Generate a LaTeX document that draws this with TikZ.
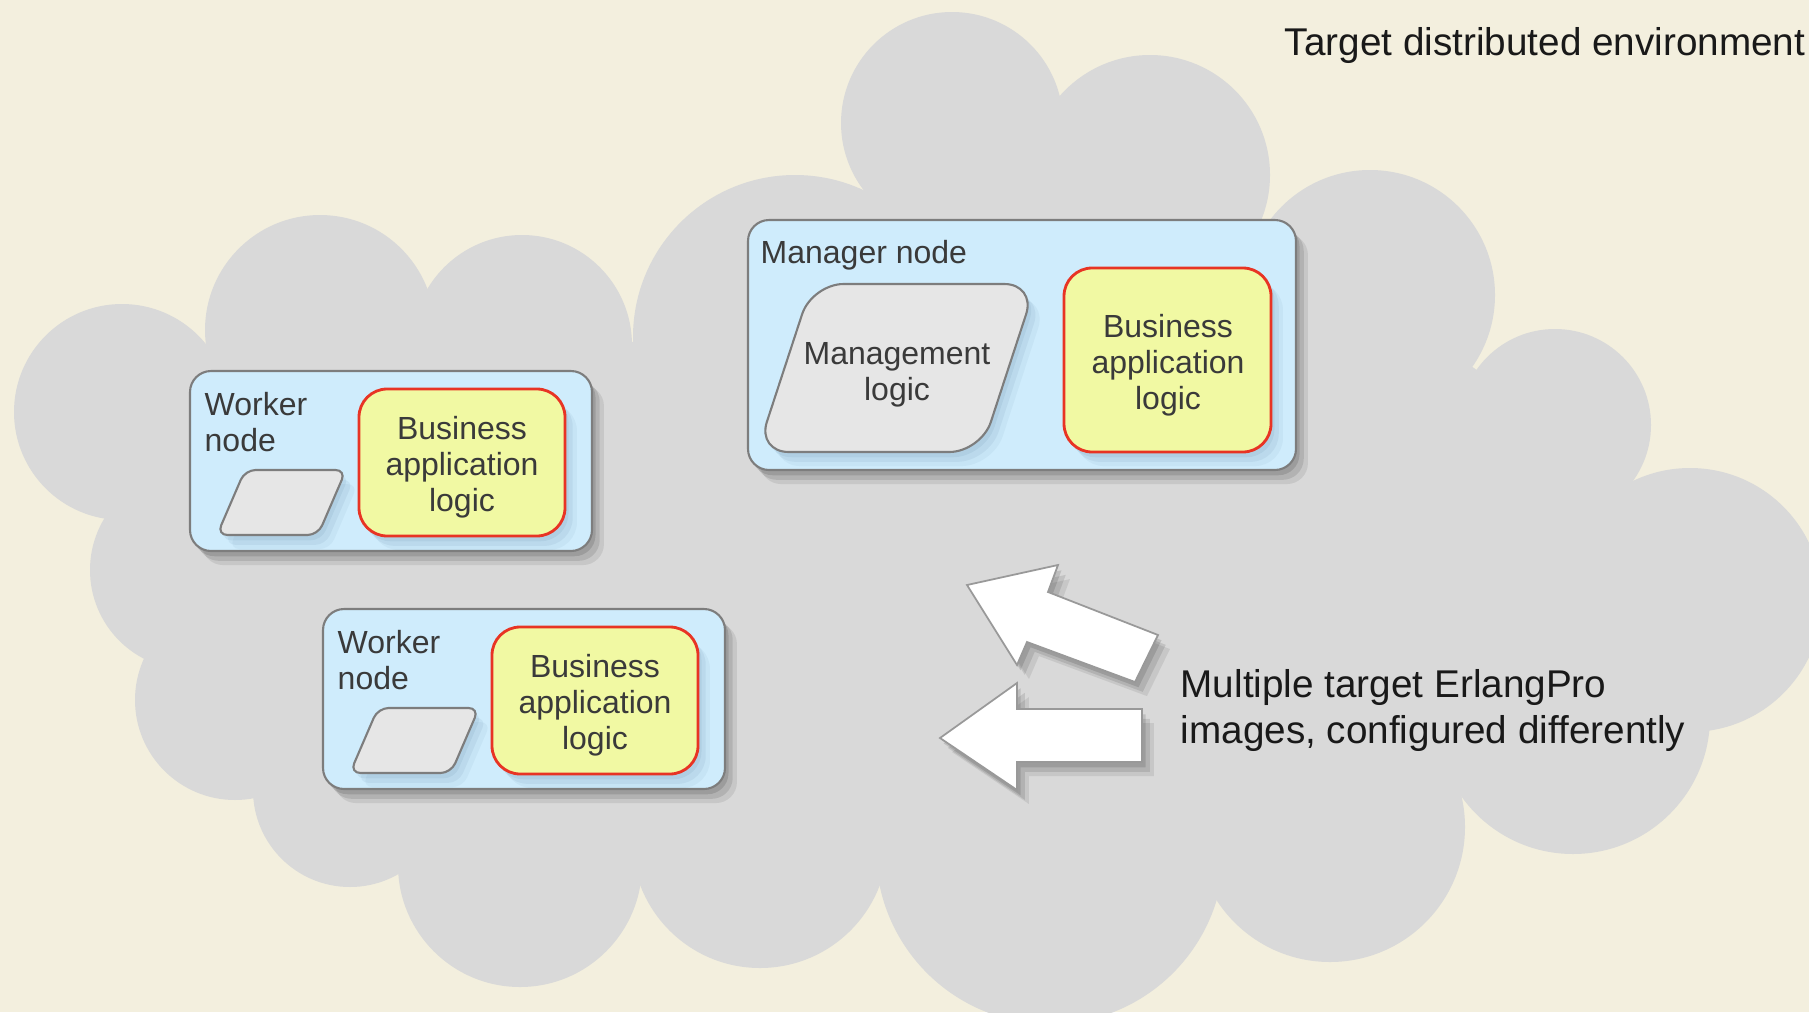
\documentclass[tikz,border=0pt]{standalone}
\usepackage{fontspec}
\setmainfont{Liberation Sans}
\usetikzlibrary{shadows}

\definecolor{paper}{RGB}{243,239,222}
\definecolor{cloudgray}{RGB}{217,217,217}
\definecolor{nodeblue}{RGB}{207,236,252}
\definecolor{bizyellow}{RGB}{241,249,163}
\definecolor{bizred}{RGB}{232,52,36}
\definecolor{logicgray}{RGB}{230,230,230}
\definecolor{edgegray}{RGB}{125,125,125}
\definecolor{labelgray}{RGB}{58,58,58}
\definecolor{shadeblue}{RGB}{95,135,165}

\tikzset{
	softshadow/.style={
		drop shadow={shadow xshift=1pt, shadow yshift=-1.5pt, opacity=0.12, fill=#1},
		drop shadow={shadow xshift=2.2pt, shadow yshift=-2.8pt, opacity=0.10, fill=#1},
		drop shadow={shadow xshift=3.4pt, shadow yshift=-4pt, opacity=0.08, fill=#1}},
	hostbox/.style={fill=nodeblue, draw=edgegray, line width=0.6pt, rounded corners=6pt, softshadow=black},
	bizbox/.style={fill=bizyellow, draw=bizred, line width=0.8pt, rounded corners=8pt, softshadow=shadeblue},
	logicbox/.style={fill=logicgray, draw=edgegray, line width=0.6pt, rounded corners=3pt, softshadow=shadeblue},
	bigarrow/.style={fill=white, draw=gray!80, line width=0.5pt, softshadow=black},
	hostlbl/.style={font=\fontsize{9.1}{10.2}\selectfont, text=labelgray, inner sep=0pt, align=left},
	bizlbl/.style={font=\fontsize{9.1}{10.2}\selectfont, text=labelgray, inner sep=0pt, align=center},
	caption/.style={font=\fontsize{11}{12.9}\selectfont, text=black!90, inner sep=0pt, align=left}
}

\begin{document}
\begin{tikzpicture}[x=0.01cm, y=-0.01cm]
	%%%%% START %%%%%
	
	\useasboundingbox (0,0) rectangle (1809,1012);
	\fill[paper] (0,0) rectangle (1809,1012);
	
	% cloud
	\fill[cloudgray] (122,412) -- (320,330) -- (522,345) -- (795,337) -- (952,123) -- (1150,175)
		-- (1370,295) -- (1555,425) -- (1690,600) -- (1573,717) -- (1330,827) -- (1050,850)
		-- (760,840) -- (520,865) -- (350,790) -- (235,700) -- (190,570) -- cycle;
	\fill[cloudgray] (122,412) circle (108);
	\fill[cloudgray] (320,330) circle (115);
	\fill[cloudgray] (522,345) circle (110);
	\fill[cloudgray] (795,337) circle (162);
	\fill[cloudgray] (952,123) circle (111);
	\fill[cloudgray] (1150,175) circle (120);
	\fill[cloudgray] (1370,295) circle (125);
	\fill[cloudgray] (1555,425) circle (96);
	\fill[cloudgray] (1690,600) circle (132);
	\fill[cloudgray] (1573,717) circle (137);
	\fill[cloudgray] (1330,827) circle (135);
	\fill[cloudgray] (1050,850) circle (174);
	\fill[cloudgray] (760,840) circle (128);
	\fill[cloudgray] (520,865) circle (122);
	\fill[cloudgray] (350,790) circle (97);
	\fill[cloudgray] (235,700) circle (100);
	\fill[cloudgray] (190,570) circle (100);
	
	\node[caption, anchor=base east] (env) at (1806,55) {Target distributed environment};
	
	% worker node, upper
	\draw[hostbox] (190,371) rectangle (592,551);
	\draw[logicbox] (268,535) -- (217,535) -- (245,470) -- (346,470) -- (318,535) -- cycle;
	\draw[bizbox] (359,389) rectangle (565,536);
	\node[hostlbl, anchor=north west] (wlblA) at (204,392) {Worker\\node};
	\node[bizlbl] (wbizA) at (462,467) {Business\\application\\logic};
	
	% worker node, lower
	\draw[hostbox] (323,609) rectangle (725,789);
	\draw[logicbox] (401,773) -- (350,773) -- (378,708) -- (479,708) -- (451,773) -- cycle;
	\draw[bizbox] (492,627) rectangle (698,774);
	\node[hostlbl, anchor=north west] (wlblB) at (337,630) {Worker\\node};
	\node[bizlbl] (wbizB) at (595,705) {Business\\application\\logic};
	
	% manager node
	\draw[hostbox] (748,220) rectangle (1296,470);
	\draw[logicbox, rounded corners=9pt] (870,452) -- (757,452) -- (812,284) -- (1036,284) -- (981,452) -- cycle;
	\draw[bizbox] (1064,268) rectangle (1271,452);
	\node[hostlbl, anchor=north west] (mlbl) at (760,240) {Manager node};
	\node[bizlbl] (mlogic) at (897,375) {Management\\logic};
	\node[bizlbl] (mbiz) at (1168,365) {Business\\application\\logic};
	
	% images going out
	\draw[bigarrow] (967,585) -- (1058,565) -- (1048,592) -- (1158,635) -- (1135,682) -- (1027,642) -- (1017,665) -- cycle;
	\draw[bigarrow] (940,738) -- (1017,683) -- (1017,709) -- (1142,709) -- (1142,762) -- (1017,762) -- (1017,790) -- cycle;
	
	\node[caption, anchor=north west] (imgs) at (1180,669) {Multiple target ErlangPro\\images, configured differently};
	
	%%%%% END %%%%%
\end{tikzpicture}
\end{document}
